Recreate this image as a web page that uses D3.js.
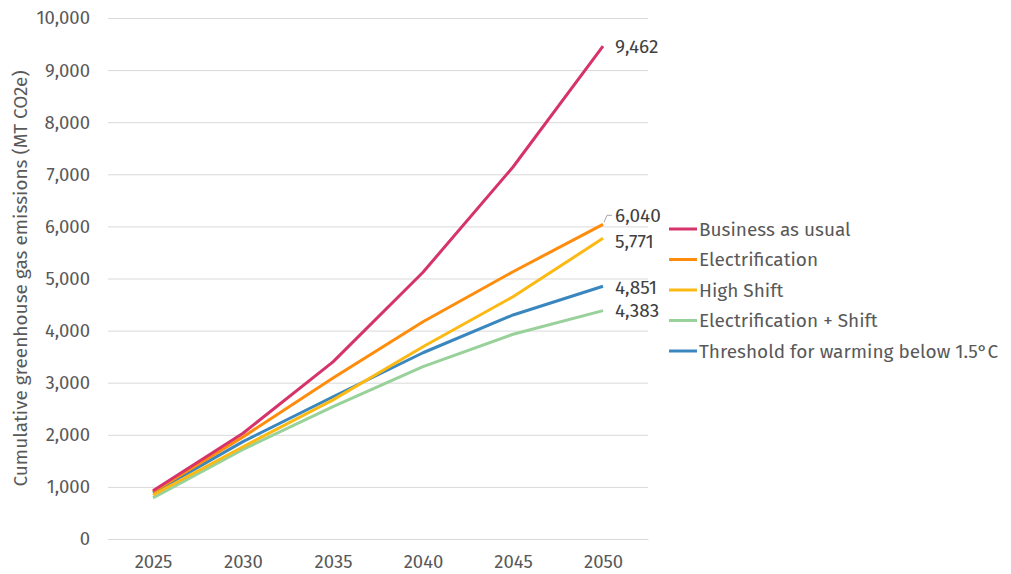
<!DOCTYPE html>
<html>
<head>
<meta charset="utf-8">
<script src="https://cdn.jsdelivr.net/npm/d3@7"></script>
<style>
  body { margin: 0; background: #fff; }
  svg text { font-family: "Fira Sans", "Noto Sans", sans-serif; fill: #595959; }
  svg text.end-label { fill: #404040; }
</style>
</head>
<body>
<svg id="chart" width="1011" height="574"></svg>
<script>
// years on the x axis
const years = ['2025', '2030', '2035', '2040', '2045', '2050'];

// scenario names and colours
const scenarios = ['Business as usual', 'Electrification', 'High Shift', 'Electrification + Shift', 'Threshold for warming below 1.5°C'];
const colours = ['#d6336a', '#ff8c0a', '#fdb913', '#98d19a', '#3a87c0'];

// cumulative emissions, MT CO2e
const businessAsUsual = [925, 2030, 3400, 5120, 7140, 9462];
const electrification = [905, 1960, 3090, 4170, 5130, 6040];
const highShift = [845, 1770, 2670, 3690, 4650, 5771];
const electrificationShift = [790, 1720, 2540, 3310, 3930, 4383];
const threshold = [885, 1870, 2730, 3575, 4300, 4851];

const yTicks = [0, 1000, 2000, 3000, 4000, 5000, 6000, 7000, 8000, 9000, 10000];

const series = [businessAsUsual, electrification, highShift, electrificationShift, threshold];
// drawing order: blue under the others like the original
const drawOrder = [4, 3, 2, 1, 0];

const margin = { top: 18, right: 363, bottom: 35, left: 108 };
const width = 1011, height = 574;

const svg = d3.select('#chart');

const x = d3.scalePoint()
  .domain(years)
  .range([margin.left, width - margin.right])
  .padding(0.5);

const y = d3.scaleLinear()
  .domain([0, 10000])
  .range([height - margin.bottom, margin.top]);

const fmt = d3.format(',');

// gridlines + y labels
const yAxis = svg.append('g')
  .attr('transform', `translate(${margin.left},0)`)
  .call(d3.axisLeft(y).tickValues(yTicks).tickFormat(fmt)
    .tickSize(-(width - margin.right - margin.left)).tickPadding(18));
yAxis.select('.domain').remove();
yAxis.selectAll('.tick line').attr('stroke', '#d9d9d9');
yAxis.selectAll('.tick text').style('font-size', '18.5px');

// x labels
const xAxis = svg.append('g')
  .attr('transform', `translate(0,${height - margin.bottom})`)
  .call(d3.axisBottom(x).tickSize(0).tickPadding(16));
xAxis.select('.domain').attr('stroke', '#d9d9d9');
xAxis.selectAll('.tick text').style('font-size', '18.5px');

// y title
svg.append('text')
  .attr('transform', `translate(27,${(margin.top + height - margin.bottom) / 2}) rotate(-90)`)
  .attr('text-anchor', 'middle')
  .style('font-size', '19px')
  .text('Cumulative greenhouse gas emissions (MT CO2e)');

const line = d3.line()
  .x((d, i) => x(years[i]))
  .y(d => y(d));

drawOrder.forEach(k => {
  svg.append('path')
    .datum(series[k])
    .attr('fill', 'none')
    .attr('stroke', colours[k])
    .attr('stroke-width', 3)
    .attr('stroke-linejoin', 'round')
    .attr('d', line);
});

// end labels (a couple nudged to avoid overlap)
const labelShift = [0, -9, 3, 0, 1];
const xEnd = x(years[years.length - 1]);
series.forEach((s, k) => {
  const v = s[s.length - 1];
  const ly = y(v) + labelShift[k];
  if (Math.abs(labelShift[k]) > 5) {
    svg.append('polyline')
      .attr('points', `${xEnd + 1},${y(v) - 2} ${xEnd + 4},${ly} ${xEnd + 9},${ly}`)
      .attr('fill', 'none')
      .attr('stroke', '#a6a6a6')
      .attr('stroke-width', 1);
  }
  svg.append('text')
    .attr('class', 'end-label')
    .attr('x', xEnd + 12)
    .attr('y', ly)
    .attr('dy', '0.35em')
    .style('font-size', '19px')
    .text(fmt(v));
});

// legend
const legend = svg.append('g').attr('transform', 'translate(669,229)');
scenarios.forEach((name, k) => {
  const g = legend.append('g').attr('transform', `translate(0,${k * 30.5})`);
  g.append('line')
    .attr('x1', 0).attr('x2', 28)
    .attr('stroke', colours[k]).attr('stroke-width', 3);
  g.append('text')
    .attr('x', 30)
    .attr('dy', '0.35em')
    .style('font-size', '19px')
    .text(name);
});
</script>
</body>
</html>
